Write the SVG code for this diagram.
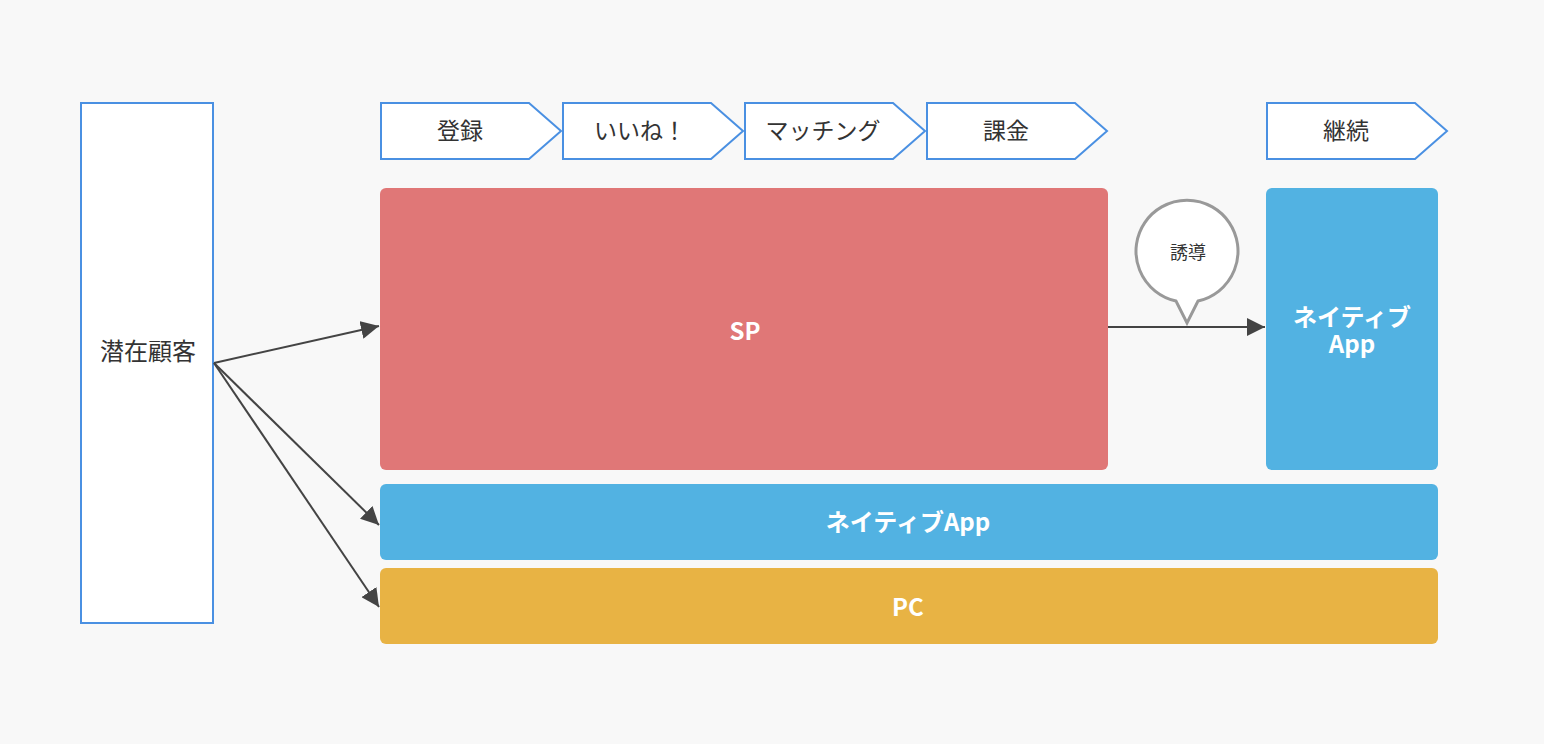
<svg xmlns="http://www.w3.org/2000/svg" width="1544" height="744" viewBox="0 0 1544 744">
<defs>
<style>
.box{fill:#fff;stroke:#4a90e2;stroke-width:2}
.lbl{font-family:"Noto Sans CJK JP","Noto Sans",sans-serif;font-size:23px;fill:#333;text-anchor:middle;dominant-baseline:central}
.wl{font-family:"Noto Sans CJK JP","Noto Sans",sans-serif;font-size:24px;font-weight:bold;fill:#fff;text-anchor:middle;dominant-baseline:central}
.conn{stroke:#444;stroke-width:2;fill:none}
</style>
<marker id="ah2" viewBox="0 0 10 10" refX="10" refY="5" markerWidth="18" markerHeight="18" markerUnits="userSpaceOnUse" orient="auto">
<path d="M0,0 L10,5 L0,10 z" fill="#444"/>
</marker>
</defs>
<rect width="1544" height="744" fill="#f8f8f8"/>

<g id="customer">
<rect class="box" x="81" y="103" width="132" height="520"/>
<text class="lbl" x="148" y="349" style="font-size:24px">潜在顧客</text>
</g>

<g id="step-register">
<polygon class="box" points="381,103 529,103 561,131 529,159 381,159"/>
<text class="lbl" x="460" y="129">登録</text>
</g>
<g id="step-like">
<polygon class="box" points="563,103 711,103 743,131 711,159 563,159"/>
<text class="lbl" x="640" y="129">いいね！</text>
</g>
<g id="step-matching">
<polygon class="box" points="745,103 893,103 925,131 893,159 745,159"/>
<text class="lbl" x="823" y="129">マッチング</text>
</g>
<g id="step-billing">
<polygon class="box" points="927,103 1075,103 1107,131 1075,159 927,159"/>
<text class="lbl" x="1006" y="129">課金</text>
</g>
<g id="step-continue">
<polygon class="box" points="1267,103 1415,103 1447,131 1415,159 1267,159"/>
<text class="lbl" x="1346" y="129">継続</text>
</g>

<g id="sp">
<rect x="380" y="188" width="728" height="282" rx="6" fill="#e07777"/>
<text class="wl" x="745" y="329">SP</text>
</g>
<g id="native-right">
<rect x="1266" y="188" width="172" height="282" rx="6" fill="#52b2e2"/>
<text class="wl" x="1352" y="315">ネイティブ</text>
<text class="wl" x="1352" y="342">App</text>
</g>
<g id="native-bar">
<rect x="380" y="484" width="1058" height="76" rx="6" fill="#52b2e2"/>
<text class="wl" x="908" y="520">ネイティブApp</text>
</g>
<g id="pc">
<rect x="380" y="568" width="1058" height="76" rx="6" fill="#e8b344"/>
<text class="wl" x="908" y="605">PC</text>
</g>

<g id="connectors">
<line class="conn" x1="214" y1="363" x2="379" y2="326" marker-end="url(#ah2)"/>
<line class="conn" x1="214" y1="363" x2="379" y2="525" marker-end="url(#ah2)"/>
<line class="conn" x1="214" y1="363" x2="379" y2="607" marker-end="url(#ah2)"/>
<line class="conn" x1="1108" y1="327" x2="1265" y2="327" marker-end="url(#ah2)"/>
</g>

<g id="bubble">
<path d="M1176,301 A51,51 0 1 1 1198,301 L1187,323 Z" fill="#fff" stroke="#999" stroke-width="3" stroke-linejoin="miter"/>
<text class="lbl" x="1188" y="251" style="font-size:18px">誘導</text>
</g>
</svg>
